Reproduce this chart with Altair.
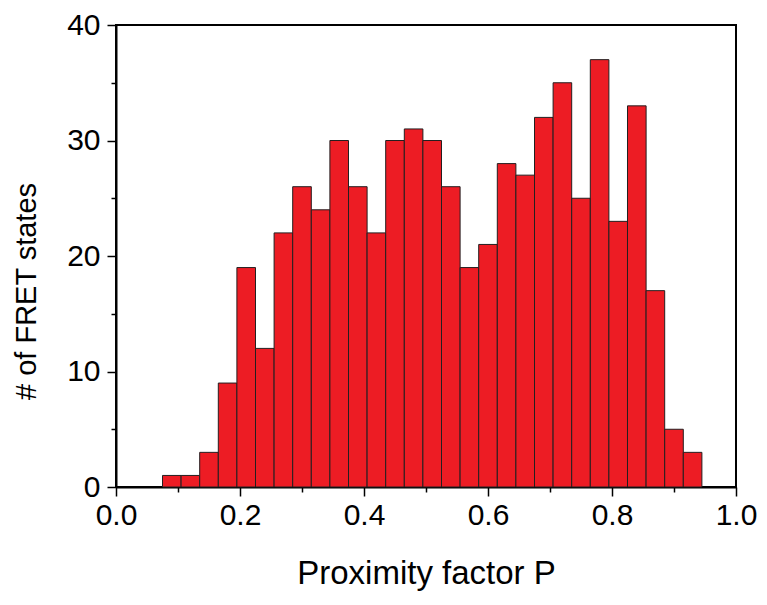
import altair as alt
import pandas as pd

bin_start_first = 0.075
bin_width = 0.03
counts = [1, 1, 3, 9, 19, 12, 22, 26, 24, 30, 26, 22, 30, 31, 30, 26, 19, 21,
          28, 27, 32, 35, 25, 37, 23, 33, 17, 5, 3]
x_ticks = [round(i * 0.1, 1) for i in range(11)]
y_ticks = list(range(0, 41, 5))

starts = [round(bin_start_first + i * bin_width, 3) for i in range(len(counts))]
ends = [round(s + bin_width, 3) for s in starts]
df = pd.DataFrame({"start": starts, "end": ends, "count": counts})

FONT = "Liberation Sans"

x_axis = alt.Axis(
    values=x_ticks,
    labelExpr="round(datum.value*10) % 2 === 0 ? format(datum.value, '.1f') : ''",
    tickSize={"condition": {"test": "round(datum.value*10) % 2 === 0", "value": 9}, "value": 5},
    grid=False,
    domainColor="black",
    domainWidth=2,
    tickColor="black",
    tickWidth=1.5,
    labelFont=FONT,
    labelFontSize=30,
    labelColor="black",
    labelPadding=4,
    labelFlush=False,
    labelOverlap=False,
    title="Proximity factor P",
    titleFont=FONT,
    titleFontSize=33,
    titleFontWeight="normal",
    titleColor="black",
    titleBaseline="alphabetic",
    titleY=96,
)

y_axis = alt.Axis(
    values=y_ticks,
    labelExpr="datum.value % 10 === 0 ? datum.label : ''",
    tickSize={"condition": {"test": "datum.value % 10 === 0", "value": 9}, "value": 5},
    grid=False,
    domainColor="black",
    domainWidth=2,
    tickColor="black",
    tickWidth=1.5,
    labelFont=FONT,
    labelFontSize=30,
    labelColor="black",
    labelPadding=7,
    labelFlush=False,
    labelOverlap=False,
    title="# of FRET states",
    titleFont=FONT,
    titleFontSize=29,
    titleFontWeight="normal",
    titleColor="black",
    titleBaseline="alphabetic",
    titleX=-81,
    titleY=266,
)

chart = (
    alt.Chart(df)
    .mark_bar(color="#ED1C24", stroke="#231F20", strokeWidth=1, orient="vertical")
    .encode(
        x=alt.X("start:Q", scale=alt.Scale(domain=[0, 1], nice=False, zero=False, padding=0), axis=x_axis),
        x2="end:Q",
        y=alt.Y("count:Q", scale=alt.Scale(domain=[0, 40], nice=False, padding=0), axis=y_axis),
        y2=alt.datum(0),
    )
    .properties(
        width=620,
        height=462,
        autosize=alt.AutoSizeParams(type="none"),
        padding={"left": 108, "top": 17, "right": 22, "bottom": 110},
        view=alt.ViewBackground(stroke="black", strokeWidth=2, strokeOpacity=1),
    )
    .configure_view(stroke="black", strokeWidth=2)
    .configure(background="white")
)

chart.save("out.html", embed_options={"renderer": "svg", "actions": False})
